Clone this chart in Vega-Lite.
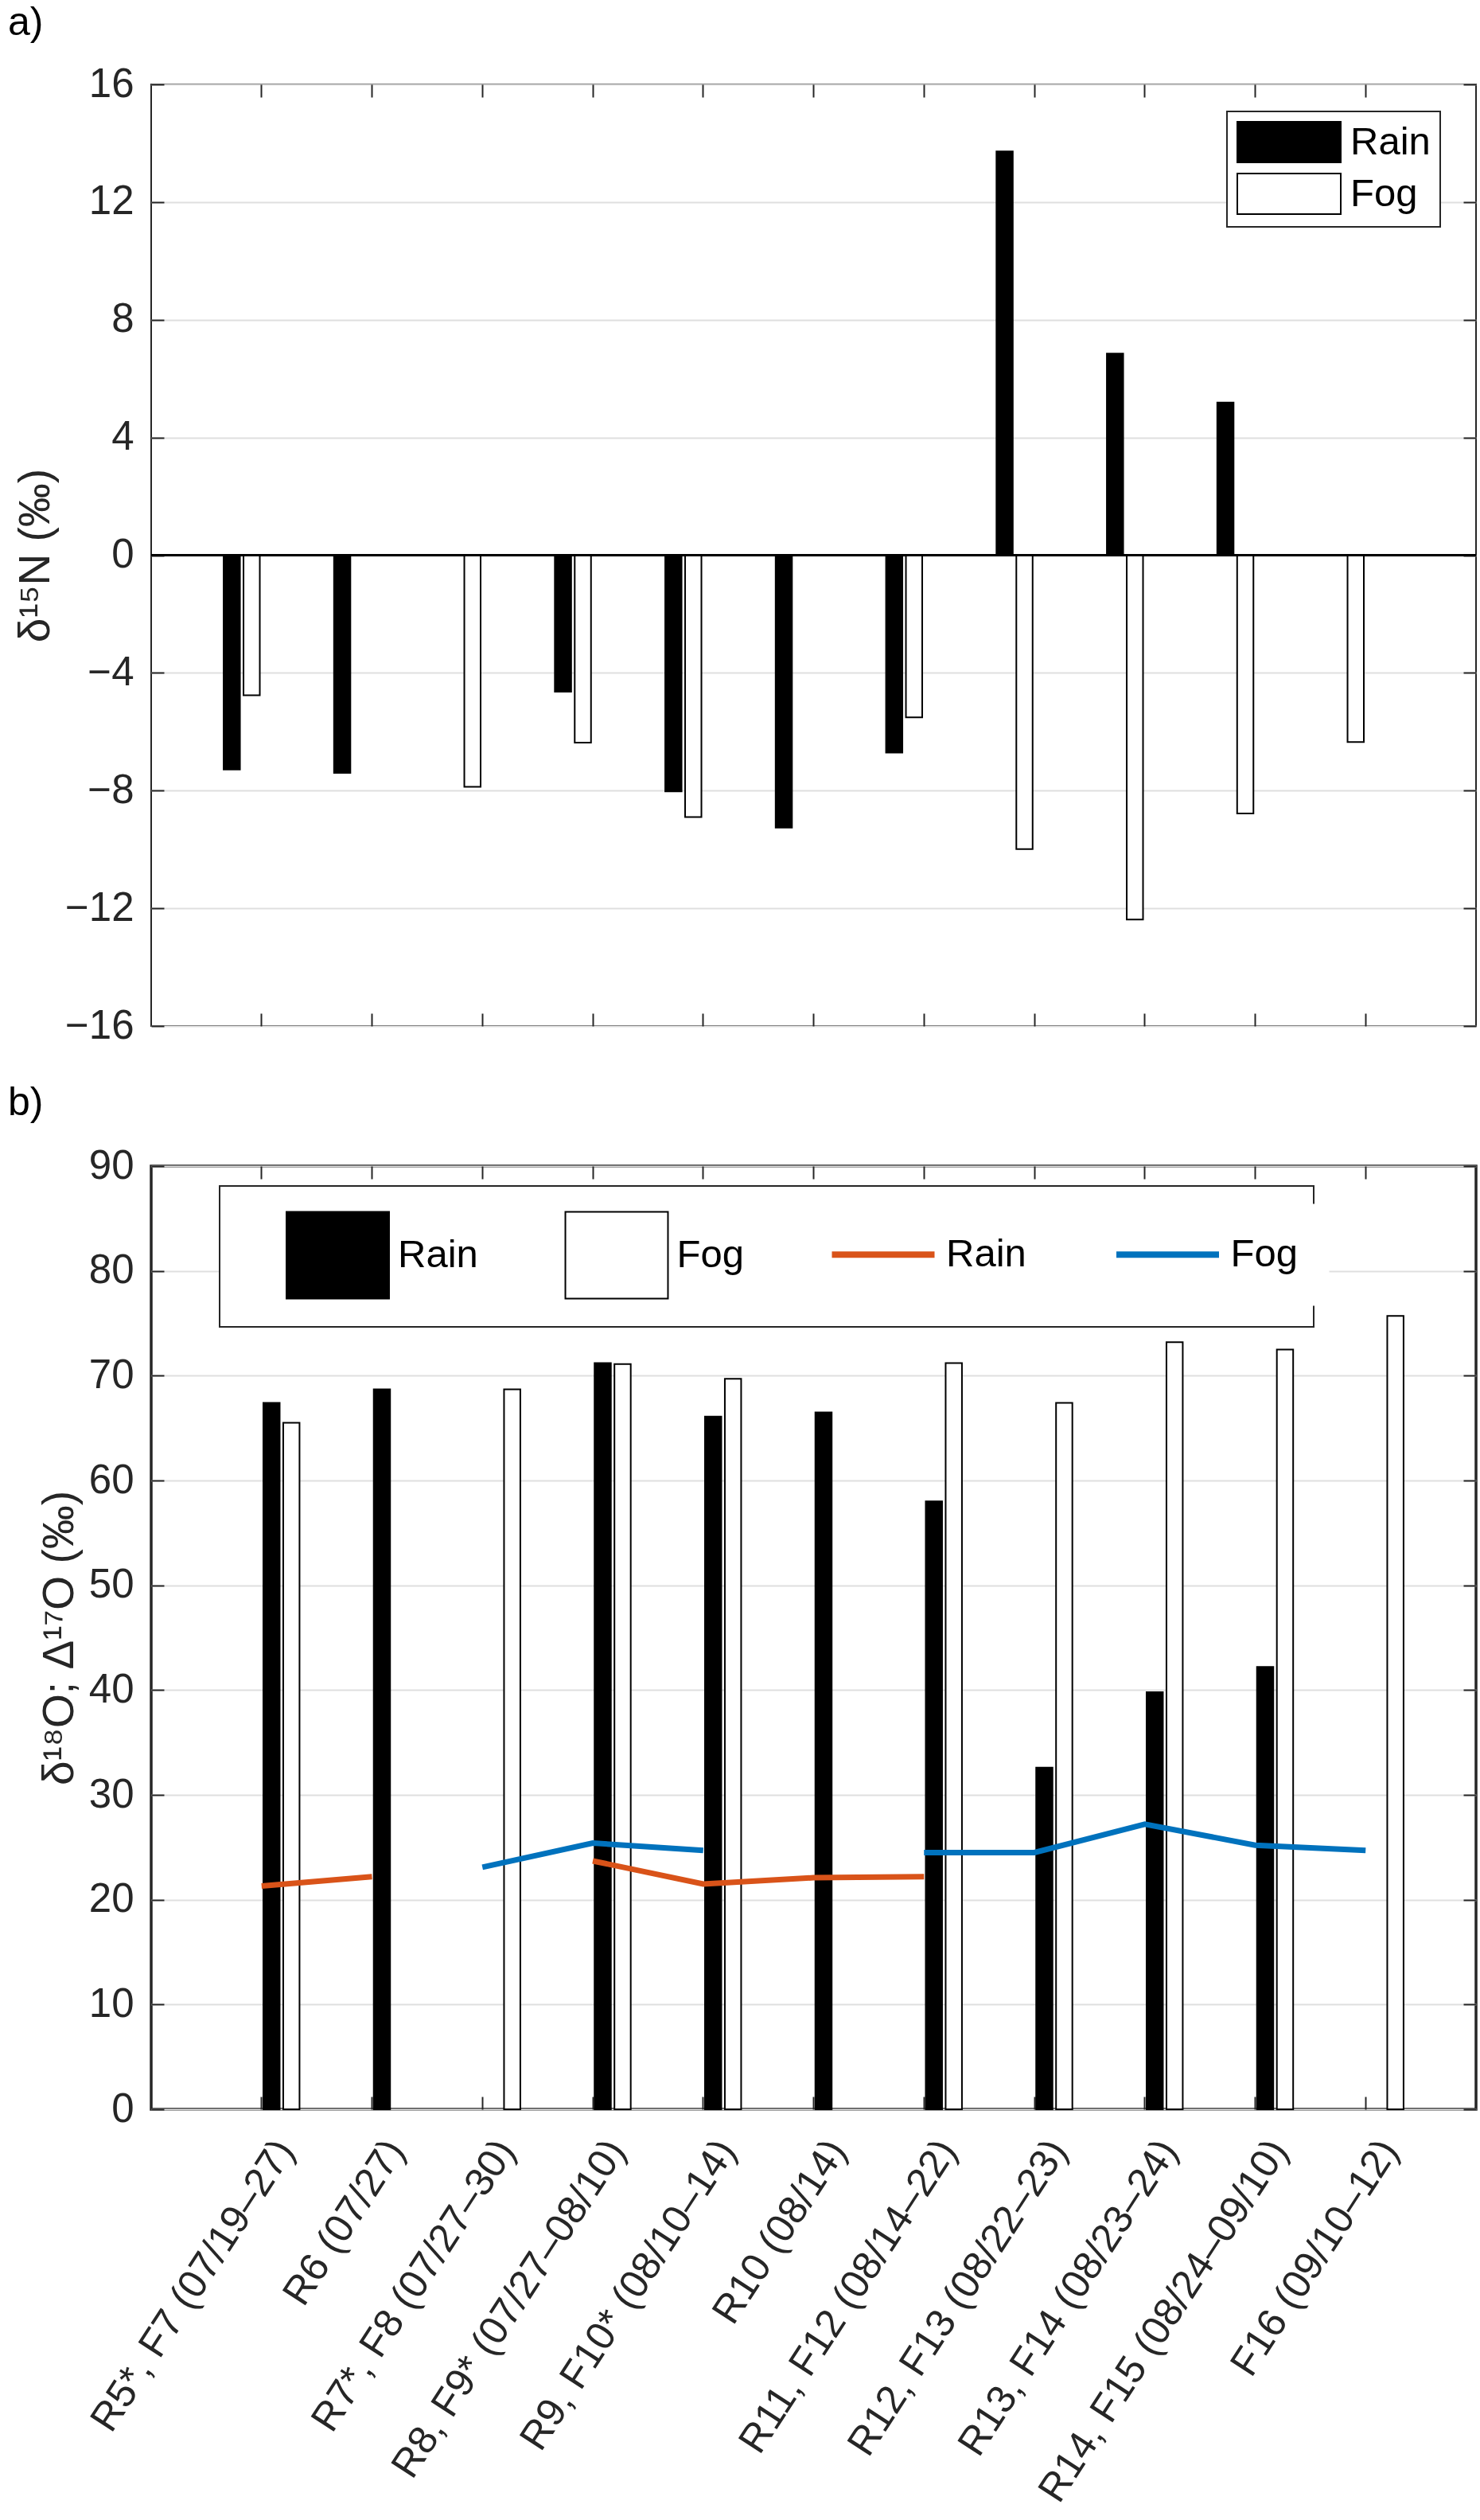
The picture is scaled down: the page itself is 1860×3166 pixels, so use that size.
{
  "$schema": "https://vega.github.io/schema/vega-lite/v6.json",
  "background": "white",
  "padding": {"left": 8, "top": 3, "right": 0, "bottom": 0},
  "spacing": 44,
  "resolve": {"scale": {"color": "independent", "stroke": "independent"}, "legend": {"color": "independent", "stroke": "independent"}},
  "config": {
    "font": "Liberation Sans",
    "view": {"stroke": "#262626", "strokeWidth": 2},
    "axis": {
      "domain": false,
      "tickSize": -16,
      "tickWidth": 2,
      "tickColor": "#262626",
      "labelColor": "#262626",
      "labelFont": "Liberation Sans",
      "labelFontSize": 51,
      "labelPadding": 38,
      "titleFont": "Liberation Sans",
      "titleFontSize": 55,
      "titleFontWeight": "normal",
      "titleColor": "#262626",
      "titlePadding": 8,
      "gridColor": "#dfdfdf",
      "gridWidth": 2,
      "grid": false
    },
    "legend": {
      "labelFont": "Liberation Sans",
      "labelColor": "black",
      "strokeColor": "#262626",
      "strokeWidth": 2,
      "fillColor": "white"
    },
    "title": {"font": "Liberation Sans", "fontSize": 50, "fontWeight": "normal", "color": "black"}
  },
  "datasets": {
    "d15N": [
      {"station": "R5*, F7 (07/19–27)", "sample": "Rain", "value": -7.28},
      {"station": "R5*, F7 (07/19–27)", "sample": "Fog", "value": -4.76},
      {"station": "R6 (07/27)", "sample": "Rain", "value": -7.40},
      {"station": "R7*, F8 (07/27–30)", "sample": "Fog", "value": -7.87},
      {"station": "R8, F9* (07/27–08/10)", "sample": "Rain", "value": -4.64},
      {"station": "R8, F9* (07/27–08/10)", "sample": "Fog", "value": -6.37},
      {"station": "R9, F10* (08/10–14)", "sample": "Rain", "value": -8.03},
      {"station": "R9, F10* (08/10–14)", "sample": "Fog", "value": -8.90},
      {"station": "R10 (08/14)", "sample": "Rain", "value": -9.26},
      {"station": "R11, F12 (08/14–22)", "sample": "Rain", "value": -6.71},
      {"station": "R11, F12 (08/14–22)", "sample": "Fog", "value": -5.51},
      {"station": "R12, F13 (08/22–23)", "sample": "Rain", "value": 13.72},
      {"station": "R12, F13 (08/22–23)", "sample": "Fog", "value": -9.99},
      {"station": "R13, F14 (08/23–24)", "sample": "Rain", "value": 6.85},
      {"station": "R13, F14 (08/23–24)", "sample": "Fog", "value": -12.38},
      {"station": "R14, F15 (08/24–09/10)", "sample": "Rain", "value": 5.19},
      {"station": "R14, F15 (08/24–09/10)", "sample": "Fog", "value": -8.78},
      {"station": "F16 (09/10–12)", "sample": "Fog", "value": -6.35}
    ],
    "d18O": [
      {"station": "R5*, F7 (07/19–27)", "series": "Rain δ18O", "value": 67.4},
      {"station": "R5*, F7 (07/19–27)", "series": "Fog δ18O", "value": 65.5},
      {"station": "R6 (07/27)", "series": "Rain δ18O", "value": 68.7},
      {"station": "R7*, F8 (07/27–30)", "series": "Fog δ18O", "value": 68.7},
      {"station": "R8, F9* (07/27–08/10)", "series": "Rain δ18O", "value": 71.2},
      {"station": "R8, F9* (07/27–08/10)", "series": "Fog δ18O", "value": 71.1},
      {"station": "R9, F10* (08/10–14)", "series": "Rain δ18O", "value": 66.1},
      {"station": "R9, F10* (08/10–14)", "series": "Fog δ18O", "value": 69.7},
      {"station": "R10 (08/14)", "series": "Rain δ18O", "value": 66.5},
      {"station": "R11, F12 (08/14–22)", "series": "Rain δ18O", "value": 58.0},
      {"station": "R11, F12 (08/14–22)", "series": "Fog δ18O", "value": 71.2},
      {"station": "R12, F13 (08/22–23)", "series": "Rain δ18O", "value": 32.6},
      {"station": "R12, F13 (08/22–23)", "series": "Fog δ18O", "value": 67.4},
      {"station": "R13, F14 (08/23–24)", "series": "Rain δ18O", "value": 39.8},
      {"station": "R13, F14 (08/23–24)", "series": "Fog δ18O", "value": 73.2},
      {"station": "R14, F15 (08/24–09/10)", "series": "Rain δ18O", "value": 42.2},
      {"station": "R14, F15 (08/24–09/10)", "series": "Fog δ18O", "value": 72.5},
      {"station": "F16 (09/10–12)", "series": "Fog δ18O", "value": 75.7}
    ],
    "D17O": [
      {"station": "R5*, F7 (07/19–27)", "series": "Rain Δ17O", "value": 21.3},
      {"station": "R6 (07/27)", "series": "Rain Δ17O", "value": 22.2},
      {"station": "R7*, F8 (07/27–30)", "series": "Rain Δ17O", "value": null},
      {"station": "R8, F9* (07/27–08/10)", "series": "Rain Δ17O", "value": 23.7},
      {"station": "R9, F10* (08/10–14)", "series": "Rain Δ17O", "value": 21.5},
      {"station": "R10 (08/14)", "series": "Rain Δ17O", "value": 22.1},
      {"station": "R11, F12 (08/14–22)", "series": "Rain Δ17O", "value": 22.2},
      {"station": "R12, F13 (08/22–23)", "series": "Rain Δ17O", "value": null},
      {"station": "R5*, F7 (07/19–27)", "series": "Fog Δ17O", "value": null},
      {"station": "R6 (07/27)", "series": "Fog Δ17O", "value": null},
      {"station": "R7*, F8 (07/27–30)", "series": "Fog Δ17O", "value": 23.1},
      {"station": "R8, F9* (07/27–08/10)", "series": "Fog Δ17O", "value": 25.4},
      {"station": "R9, F10* (08/10–14)", "series": "Fog Δ17O", "value": 24.7},
      {"station": "R10 (08/14)", "series": "Fog Δ17O", "value": null},
      {"station": "R11, F12 (08/14–22)", "series": "Fog Δ17O", "value": 24.5},
      {"station": "R12, F13 (08/22–23)", "series": "Fog Δ17O", "value": 24.5},
      {"station": "R13, F14 (08/23–24)", "series": "Fog Δ17O", "value": 27.2},
      {"station": "R14, F15 (08/24–09/10)", "series": "Fog Δ17O", "value": 25.2},
      {"station": "F16 (09/10–12)", "series": "Fog Δ17O", "value": 24.7}
    ]
  },
  "vconcat": [
    {
      "title": {"text": "a)", "anchor": "start", "frame": "group", "dx": -180, "offset": -14, "baseline": "alphabetic"},
      "width": 1665,
      "height": 1183,
      "layer": [
        {
          "data": {"name": "d15N"},
          "mark": {"type": "bar", "stroke": "black", "strokeWidth": 2},
          "encoding": {
            "x": {
              "field": "station", "type": "nominal",
              "scale": {"domain": ["R5*, F7 (07/19–27)", "R6 (07/27)", "R7*, F8 (07/27–30)", "R8, F9* (07/27–08/10)", "R9, F10* (08/10–14)", "R10 (08/14)", "R11, F12 (08/14–22)", "R12, F13 (08/22–23)", "R13, F14 (08/23–24)", "R14, F15 (08/24–09/10)", "F16 (09/10–12)"], "paddingInner": 0, "paddingOuter": 0.5},
              "axis": {"orient": "bottom", "labels": false, "title": null}
            },
            "xOffset": {"field": "sample", "type": "nominal", "scale": {"domain": ["Rain", "Fog"], "paddingInner": 0.1795, "paddingOuter": 0.869}},
            "y": {
              "field": "value", "type": "quantitative",
              "scale": {"domain": [-16, 16], "nice": false, "zero": false},
              "axis": {"orient": "left", "values": [-16, -12, -8, -4, 0, 4, 8, 12, 16], "title": "δ¹⁵N (‰)", "grid": true}
            },
            "color": {
              "field": "sample", "type": "nominal",
              "scale": {"domain": ["Rain", "Fog"], "range": ["black", "white"]},
              "legend": {
                "orient": "none", "legendX": 1352, "legendY": 34, "title": null,
                "symbolType": "M-2.549,-1H2.549V1H-2.549Z", "symbolSize": 2601,
                "symbolOffset": 39.5, "labelOffset": 50.5, "labelFontSize": 49,
                "padding": 12, "rowPadding": 6,
                "symbolStrokeColor": "black", "symbolStrokeWidth": 2
              }
            }
          }
        },
        {
          "data": {"name": "d15N"},
          "mark": {"type": "rule", "color": "black", "strokeWidth": 2},
          "encoding": {"y": {"datum": 0, "type": "quantitative", "axis": null}}
        },
        {
          "data": {"name": "d15N"},
          "mark": {"type": "point", "opacity": 0},
          "encoding": {
            "x": {"field": "station", "type": "nominal", "axis": {"orient": "top", "labels": false, "title": null}},
            "y": {"field": "value", "type": "quantitative", "axis": {"orient": "right", "labels": false, "title": null, "grid": false, "values": [-16, -12, -8, -4, 0, 4, 8, 12, 16]}}
          }
        }
      ],
      "resolve": {"axis": {"x": "independent", "y": "independent"}}
    },
    {
      "title": {"text": "b)", "anchor": "start", "frame": "group", "dx": -180, "offset": -12, "baseline": "alphabetic"},
      "width": 1665,
      "height": 1185,
      "view": {"stroke": "#262626", "strokeWidth": 3.5},
      "layer": [
        {
          "data": {"name": "d18O"},
          "mark": {"type": "bar", "stroke": "black", "strokeWidth": 2},
          "encoding": {
            "x": {
              "field": "station", "type": "nominal",
              "scale": {"domain": ["R5*, F7 (07/19–27)", "R6 (07/27)", "R7*, F8 (07/27–30)", "R8, F9* (07/27–08/10)", "R9, F10* (08/10–14)", "R10 (08/14)", "R11, F12 (08/14–22)", "R12, F13 (08/22–23)", "R13, F14 (08/23–24)", "R14, F15 (08/24–09/10)", "F16 (09/10–12)"], "paddingInner": 0, "paddingOuter": 0.5},
              "axis": {"orient": "bottom", "title": null, "labelAngle": -57, "labelAlign": "right", "labelBaseline": "middle", "labelPadding": 59, "labelOffset": 30, "labelFontSize": 50, "labelLimit": 1000}
            },
            "xOffset": {"field": "series", "type": "nominal", "scale": {"domain": ["Rain δ18O", "Fog δ18O"], "paddingInner": 0.1795, "paddingOuter": 0.869}},
            "y": {
              "field": "value", "type": "quantitative",
              "scale": {"domain": [0, 90], "nice": false},
              "axis": {"orient": "left", "values": [0, 10, 20, 30, 40, 50, 60, 70, 80, 90], "title": "δ¹⁸O; Δ¹⁷O (‰)", "grid": true}
            },
            "color": {
              "field": "series", "type": "nominal",
              "scale": {"domain": ["Rain δ18O", "Fog δ18O", "Rain Δ17O", "Fog Δ17O"], "range": ["black", "white", "#D95319", "#0072BD"]},
              "legend": {
                "orient": "none", "legendX": 86, "legendY": 25, "title": null,
                "direction": "horizontal", "columns": 4,
                "symbolType": "M-1.183,-1H1.183V1H-1.183Z", "symbolSize": 11881,
                "symbolStrokeColor": "black", "symbolStrokeWidth": 2,
                "symbolOffset": 61.5, "labelOffset": 20, "columnPadding": 56.5,
                "labelFontSize": 49, "padding": 31.5,
                "labelExpr": "split(datum.label, ' ')[0]"
              }
            }
          }
        },
        {
          "data": {"name": "D17O"},
          "mark": {"type": "line", "strokeWidth": 7, "invalid": "break-paths-show-domains"},
          "encoding": {
            "x": {"field": "station", "type": "nominal", "axis": {"orient": "top", "labels": false, "title": null}},
            "y": {"field": "value", "type": "quantitative", "axis": {"orient": "right", "labels": false, "title": null, "grid": false, "values": [0, 10, 20, 30, 40, 50, 60, 70, 80, 90]}},
            "stroke": {
              "field": "series", "type": "nominal",
              "scale": {"domain": ["Rain Δ17O", "Fog Δ17O"], "range": ["#D95319", "#0072BD"]},
              "legend": {
                "orient": "none", "legendX": 761.5, "legendY": 48.5, "title": null,
                "direction": "horizontal", "columns": 2,
                "symbolType": "M-3.225,0H3.225", "symbolSize": 1600, "symbolStrokeWidth": 8,
                "symbolOffset": 96, "labelOffset": 54.5, "columnPadding": 56.5,
                "labelFontSize": 49, "padding": 38,
                "fillColor": "white", "strokeColor": "white",
                "labelExpr": "split(datum.label, ' ')[0]"
              }
            }
          }
        }
      ],
      "resolve": {"axis": {"x": "independent", "y": "independent"}}
    }
  ]
}
